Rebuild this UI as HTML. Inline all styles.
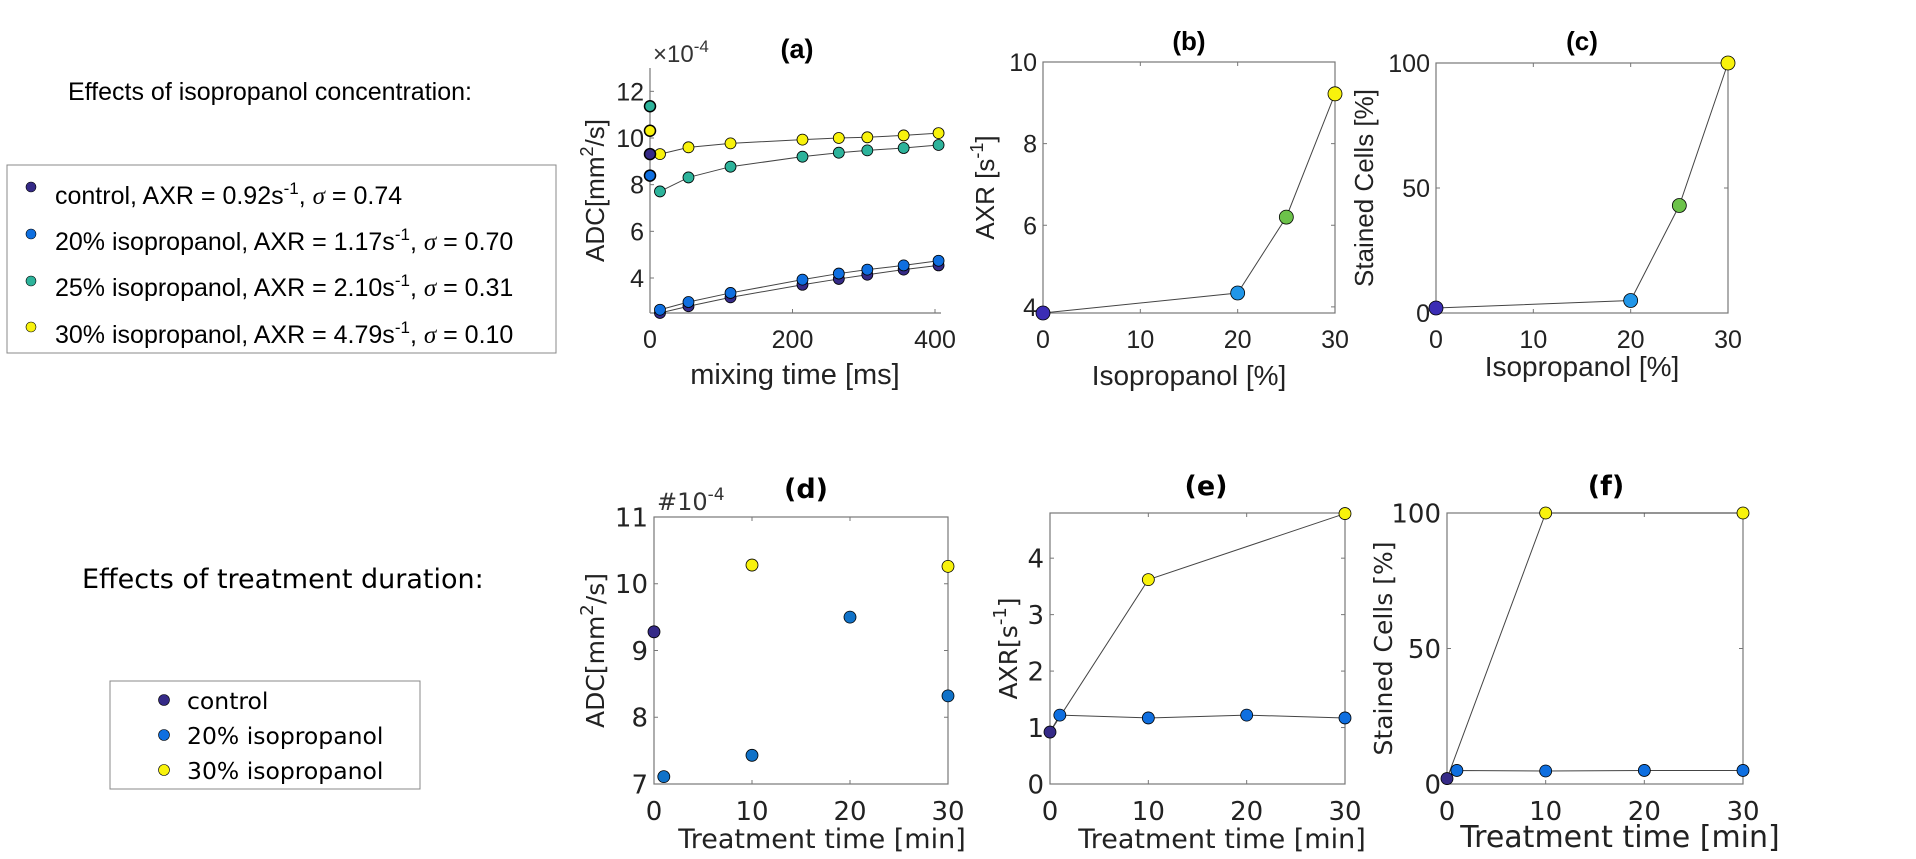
<!DOCTYPE html>
<html><head><meta charset="utf-8"><style>
html,body{margin:0;padding:0;background:#fff;}
svg{display:block;font-family:"Liberation Sans","DejaVu Sans",sans-serif;}
</style></head><body>
<svg id="fig" width="1916" height="859" viewBox="0 0 1916 859" xmlns="http://www.w3.org/2000/svg">
<g><text x="68" y="100" font-size="25" fill="#000">Effects of isopropanol concentration:</text></g>
<g>
<rect x="7" y="165" width="549" height="188" fill="#fff" stroke="#888"/>
<g font-size="25" fill="#000">
<circle cx="31" cy="187" r="5" fill="#352a87" stroke="#000" stroke-width="0.6"/><text x="55" y="204">control, AXR = 0.92s<tspan dy="-10" font-size="17">-1</tspan><tspan dy="10">, </tspan><tspan font-style="italic" font-family="Liberation Serif">σ</tspan> = 0.74</text>
<circle cx="31" cy="234" r="5" fill="#0f6fe0" stroke="#000" stroke-width="0.6"/><text x="55" y="250">20% isopropanol, AXR = 1.17s<tspan dy="-10" font-size="17">-1</tspan><tspan dy="10">, </tspan><tspan font-style="italic" font-family="Liberation Serif">σ</tspan> = 0.70</text>
<circle cx="31" cy="281" r="5" fill="#2db39b" stroke="#000" stroke-width="0.6"/><text x="55" y="296">25% isopropanol, AXR = 2.10s<tspan dy="-10" font-size="17">-1</tspan><tspan dy="10">, </tspan><tspan font-style="italic" font-family="Liberation Serif">σ</tspan> = 0.31</text>
<circle cx="31" cy="327" r="5" fill="#f8f20c" stroke="#000" stroke-width="0.6"/><text x="55" y="343">30% isopropanol, AXR = 4.79s<tspan dy="-10" font-size="17">-1</tspan><tspan dy="10">, </tspan><tspan font-style="italic" font-family="Liberation Serif">σ</tspan> = 0.10</text>
</g></g>
<g><text x="82" y="588" font-size="27" font-family="DejaVu Sans" fill="#000">Effects of treatment duration:</text></g>
<g>
<rect x="110" y="681" width="310" height="108" fill="#fff" stroke="#888"/>
<g font-size="23.5" font-family="DejaVu Sans" fill="#000">
<circle cx="164" cy="700" r="5.5" fill="#352a87" stroke="#000" stroke-width="0.6"/><text x="187" y="709">control</text>
<circle cx="164" cy="735" r="5.5" fill="#0f6fe0" stroke="#000" stroke-width="0.6"/><text x="187" y="744">20% isopropanol</text>
<circle cx="164" cy="770" r="5.5" fill="#f8f20c" stroke="#000" stroke-width="0.6"/><text x="187" y="779">30% isopropanol</text>
</g></g>
</svg>
<script>
// ---- panel (a) data
const aTimes=[14,54,113,214,265,305,356,405];
const aYellow=[9.31,9.6,9.77,9.93,10.0,10.03,10.11,10.21];
const aTeal=[7.71,8.31,8.77,9.2,9.37,9.47,9.57,9.7];
const aBlue=[2.64,2.97,3.36,3.93,4.19,4.36,4.54,4.74];
const aControl=[2.5,2.79,3.17,3.71,3.96,4.14,4.36,4.54];
const aZeroVals=[11.36,10.31,9.31,8.39];
const aXTicks=[0,200,400];
const aYTicks=[4,6,8,10,12];
// ---- panel (b),(c)
const bcX=[0,20,25,30];
const bAXR=[3.85,4.34,6.2,9.22];
const cStained=[2,5,43,100];
const bYTicks=[4,6,8,10];
const cYTicks=[0,50,100];
const bcXTicks=[0,10,20,30];
// ---- panels (d),(e),(f)
const dControlX=[0];const dControlY=[9.28];
const dBlueX=[1,10,20,30];const dBlueY=[7.11,7.43,9.5,8.32];
const dYellowX=[10,30];const dYellowY=[10.28,10.26];
const eControl=[0.92];
const eBlue=[1.22,1.17,1.22,1.17];
const eYellow=[3.62,4.79];
const fControl=[2];
const fBlue=[5,4.8,5,5];
const fYellow=[100,100];
const defXTicks=[0,10,20,30];
const dYTicks=[7,8,9,10,11];
const eYTicks=[0,1,2,3,4];
const fYTicks=[0,50,100];

const NS="http://www.w3.org/2000/svg";
const svg=document.getElementById('fig');
function mk(tag,attrs,parent){const e=document.createElementNS(NS,tag);for(const k in attrs)e.setAttribute(k,attrs[k]);(parent||svg).appendChild(e);return e;}
function axes(o){
  const g=mk('g',{'font-family':o.ff||'Liberation Sans, sans-serif'});
  
  
  const sx=v=>o.x0+(v-o.xmin)/(o.xmax-o.xmin)*(o.x1-o.x0);
  const sy=v=>o.y1-(v-o.ymin)/(o.ymax-o.ymin)*(o.y1-o.y0);
  if(o.box){const r=mk('rect',{x:o.x0,y:o.y0,width:o.x1-o.x0,height:o.y1-o.y0,fill:'none',stroke:'#777','stroke-width':1.2},g);}
  else{mk('line',{x1:o.x0,y1:o.y0,x2:o.x0,y2:o.y1,stroke:'#777','stroke-width':1.2},g);mk('line',{x1:o.x0,y1:o.y1,x2:o.x1+6,y2:o.y1,stroke:'#777','stroke-width':1.2},g);}
  o.xt.forEach(t=>{const x=sx(t);mk('line',{x1:x,y1:o.y1,x2:x,y2:o.y1-4,stroke:'#777'},g);if(o.box)mk('line',{x1:x,y1:o.y0,x2:x,y2:o.y0+4,stroke:'#777'},g);
    const tx=mk('text',{x:x,y:o.y1+o.tdy,'font-size':o.tfs,'text-anchor':'middle',fill:'#222'},g);tx.textContent=t;
    });
  o.yt.forEach(t=>{const y=sy(t);mk('line',{x1:o.x0,y1:y,x2:o.x0+4,y2:y,stroke:'#777'},g);if(o.box)mk('line',{x1:o.x1,y1:y,x2:o.x1-4,y2:y,stroke:'#777'},g);
    const tx=mk('text',{x:o.x0-6,y:y+o.tfs*0.36,'font-size':o.tfs,'text-anchor':'end',fill:'#222'},g);tx.textContent=t;
    });
  const ti=mk('text',{x:o.tx,y:o.ty,'font-size':o.tifs||26,'font-weight':'bold','text-anchor':'middle',fill:'#000'},g);ti.textContent=o.title;
  
  const xl=mk('text',{x:o.xlx,y:o.xly,'font-size':o.xlfs,'text-anchor':'middle',fill:'#222'},g);xl.textContent=o.xlabel;
  
  const yl=mk('text',{x:0,y:0,'font-size':o.ylfs||26,'text-anchor':'middle',fill:'#222',transform:`translate(${o.ylx},${(o.y0+o.y1)/2}) rotate(-90)`},g);yl.innerHTML=o.ylabel;
  
  return {g,sx,sy};
}
function line(ax,xs,ys,name){const p=mk('polyline',{points:xs.map((x,i)=>ax.sx(x)+','+ax.sy(ys[i])).join(' '),fill:'none',stroke:'#444','stroke-width':1},ax.g);
  }
function pts(ax,xs,ys,color,r,name,sw){xs.forEach((x,i)=>{const c=mk('circle',{cx:ax.sx(x),cy:ax.sy(ys[i]),r:r,fill:color,stroke:'#000','stroke-width':sw||0.8},ax.g);
  });}

const C={ctrl:'#352a87',blue:'#0f6fe0',teal:'#2db39b',yel:'#f8f20c',lblue:'#2196e8',green:'#6cc24a',dblue:'#3b2db5'};
const TOP={tfs:25,tdy:35,xlfs:29,ylfs:26};
const BOT={ff:'DejaVu Sans, sans-serif',tfs:26,tdy:36,xlfs:27,ylfs:25,tifs:27};
// (a)
const A=axes(Object.assign({name:'panel-a',x0:650,x1:935,y0:68,y1:313,xmin:0,xmax:400,ymin:2.5,ymax:13,box:false,xt:aXTicks,yt:aYTicks,title:'(a)',tx:797,ty:58,xlabel:'mixing time [ms]',xlx:795,xly:384,ylabel:'ADC[mm<tspan dy="-11" font-size="18">2</tspan><tspan dy="11">/s]</tspan>',ylx:604},TOP,{tifs:27}));
const ex=mk('text',{x:653,y:62,'font-size':24,fill:'#333'},A.g);ex.innerHTML='×10<tspan dy="-10" font-size="17">-4</tspan>';

line(A,aTimes,aYellow,'fit-line-30');line(A,aTimes,aTeal,'fit-line-25');line(A,aTimes,aBlue,'fit-line-20');line(A,aTimes,aControl,'fit-line-control');
pts(A,aTimes,aControl,C.ctrl,5.5,'point-control');pts(A,aTimes,aBlue,C.blue,5.5,'point-20');
pts(A,aTimes,aTeal,C.teal,5.5,'point-25');pts(A,aTimes,aYellow,C.yel,5.5,'point-30');
pts(A,[0],[aZeroVals[0]],C.teal,5.5,'point-25-t0',1.5);pts(A,[0],[aZeroVals[1]],C.yel,5.5,'point-30-t0',1.5);
pts(A,[0],[aZeroVals[2]],C.ctrl,5.5,'point-control-t0',1.5);pts(A,[0],[aZeroVals[3]],C.blue,5.5,'point-20-t0',1.5);
// (b)
const B=axes(Object.assign({name:'panel-b',x0:1043,x1:1335,y0:62,y1:313,xmin:0,xmax:30,ymin:3.85,ymax:10,box:true,xt:bcXTicks,yt:bYTicks,title:'(b)',tx:1189,ty:50,xlabel:'Isopropanol [%]',xlx:1189,xly:385,ylabel:'AXR [s<tspan dy="-11" font-size="18">-1</tspan><tspan dy="11">]</tspan>',ylx:994},TOP,{xlfs:28}));
line(B,bcX,bAXR,'line-axr');
const bcCols=[C.dblue,C.lblue,C.green,C.yel];
bcX.forEach((x,i)=>pts(B,[x],[bAXR[i]],bcCols[i],7,'point-axr-'+x));
// (c)
const Cc=axes(Object.assign({name:'panel-c',x0:1436,x1:1728,y0:63,y1:313,xmin:0,xmax:30,ymin:0,ymax:100,box:true,xt:bcXTicks,yt:cYTicks,title:'(c)',tx:1582,ty:50,xlabel:'Isopropanol [%]',xlx:1582,xly:376,ylabel:'Stained Cells [%]',ylx:1373},TOP,{xlfs:28}));
line(Cc,bcX,cStained,'line-stained');
bcX.forEach((x,i)=>pts(Cc,[x],[cStained[i]],bcCols[i],7,'point-stained-'+x));
// (d)
const D=axes(Object.assign({name:'panel-d',x0:654,x1:948,y0:517,y1:784,xmin:0,xmax:30,ymin:7,ymax:11,box:true,xt:defXTicks,yt:dYTicks,title:'(d)',tx:806,ty:498,xlabel:'Treatment time [min]',xlx:822,xly:848,ylabel:'ADC[mm<tspan dy="-11" font-size="18">2</tspan><tspan dy="11">/s]</tspan>',ylx:604},BOT));
const ex2=mk('text',{x:657,y:510,'font-size':24,fill:'#333'},D.g);ex2.innerHTML='#10<tspan dy="-10" font-size="17">-4</tspan>';

pts(D,dControlX,dControlY,C.ctrl,6,'point-control');pts(D,dBlueX,dBlueY,'#1072c8',6,'point-20');pts(D,dYellowX,dYellowY,C.yel,6,'point-30');
// (e)
const E=axes(Object.assign({name:'panel-e',x0:1050,x1:1345,y0:513,y1:784,xmin:0,xmax:30,ymin:0,ymax:4.8,box:true,xt:defXTicks,yt:eYTicks,title:'(e)',tx:1206,ty:495,xlabel:'Treatment time [min]',xlx:1222,xly:848,ylabel:'AXR[s<tspan dy="-11" font-size="18">-1</tspan><tspan dy="11">]</tspan>',ylx:1017},BOT));
line(E,[0].concat(dYellowX),eControl.concat(eYellow),'line-30');line(E,[0].concat(dBlueX),eControl.concat(eBlue),'line-20');
pts(E,[0],eControl,C.ctrl,6,'point-control');pts(E,dBlueX,eBlue,C.blue,6,'point-20');pts(E,dYellowX,eYellow,C.yel,6,'point-30');
// (f)
const F=axes(Object.assign({name:'panel-f',x0:1447,x1:1743,y0:513,y1:784,xmin:0,xmax:30,ymin:0,ymax:100,box:true,xt:defXTicks,yt:fYTicks,title:'(f)',tx:1606,ty:495,xlabel:'Treatment time [min]',xlx:1620,xly:847,ylabel:'Stained Cells [%]',ylx:1392},BOT,{xlfs:30}));
line(F,[0].concat(dYellowX),fControl.concat(fYellow),'line-30');line(F,[0].concat(dBlueX),fControl.concat(fBlue),'line-20');
pts(F,[0],fControl,C.ctrl,6,'point-control');pts(F,dBlueX,fBlue,C.blue,6,'point-20');pts(F,dYellowX,fYellow,C.yel,6,'point-30');
</script>
</body></html>
